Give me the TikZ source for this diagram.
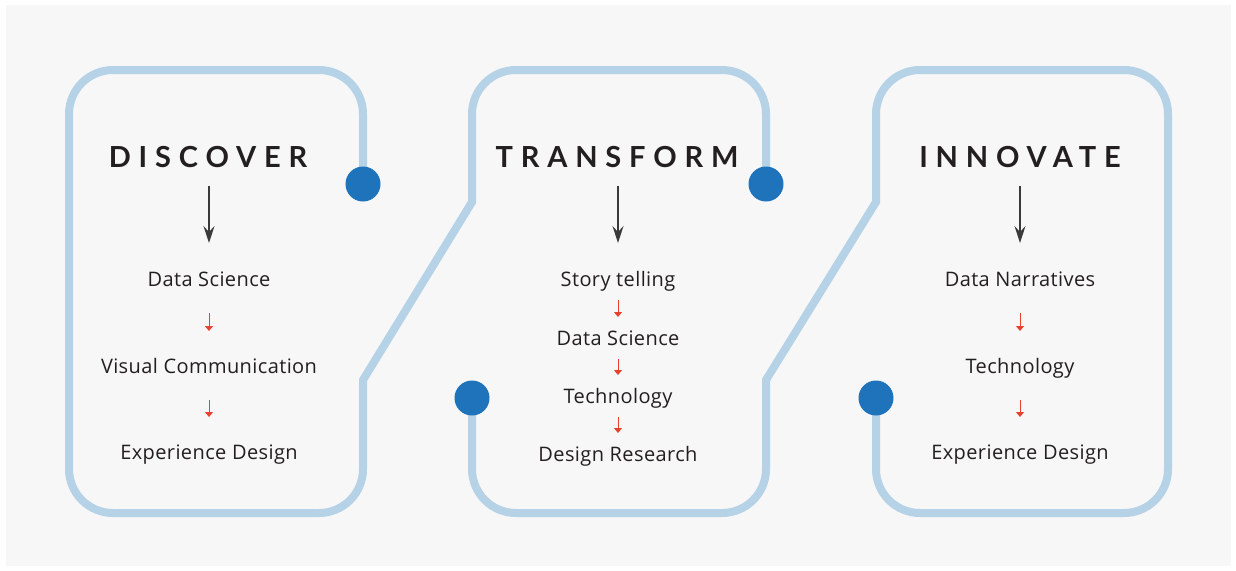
\documentclass[tikz,border=0pt]{standalone}
\usepackage{fontspec}
\setmainfont{Open Sans}[LetterSpace=2]
\newfontfamily\titlefont{Lato}[LetterSpace=27]
\usetikzlibrary{arrows.meta,positioning,calc}
\definecolor{trackblue}{HTML}{B6D2E7}
\definecolor{jointblue}{HTML}{1E73BA}
\definecolor{panelgrey}{HTML}{F7F7F7}
\definecolor{inkdark}{HTML}{231F20}
\definecolor{leadgrey}{HTML}{3A3A3A}
\definecolor{hopred}{HTML}{E8412F}

\begin{document}
\begin{tikzpicture}[x=1pt, y=-1pt, font=\fontsize{20}{22}\selectfont,
	stage/.style={font=\titlefont\bfseries\fontsize{29}{31}\selectfont, text=inkdark,
		text height=20.7pt, text depth=0pt, inner sep=0pt},
	item/.style={text=inkdark, text height=14pt, text depth=0pt, inner sep=0pt},
	joint/.style={circle, fill=jointblue, minimum size=35pt, inner sep=0pt},
	track/.style={draw=trackblue, line width=8pt, line join=miter},
	lead/.style={-{Stealth[length=17pt,width=11pt,inset=6pt]}, draw=leadgrey, line width=1.5pt},
	hop/.style={-{Triangle[length=5pt,width=8pt]}, draw=hopred, line width=1pt}
	]
		\useasboundingbox (0,0) rectangle (1236,570);
		\fill[panelgrey] (6,5) rectangle (1231,566);

		% the track
		\coordinate (jointA) at (363,184);
		\coordinate (jointB) at (766,184);
		\coordinate (jointC) at (472,398);
		\coordinate (jointD) at (876,398);
		\draw[track] (jointA) [rounded corners=44pt] -- (363,70) -- (69,70) -- (69,513) -- (363,513)
			[sharp corners] -- (363,380) -- (472,202) [rounded corners=44pt] -- (472,70) -- (766,70) -- (jointB);
		\draw[track] (jointC) [rounded corners=44pt] -- (472,513) -- (766,513)
			[sharp corners] -- (766,380) -- (876,202) [rounded corners=44pt] -- (876,70) -- (1168,70) -- (1168,513) -- (876,513) -- (jointD);
		\foreach \j in {jointA,jointB,jointC,jointD}
			\node[joint] at (\j) {};

		% discover
		\node[stage] (discover)    at (208,157) {DISCOVER};
		\node[item]  (dscience)    at (209,279) {Data Science};
		\node[item]  (dvisual)     at (209,366) {Visual Communication};
		\node[item]  (dexperience) at (209,452) {Experience Design};

		% transform
		\node[stage] (transform)   at (617,157) {TRANSFORM};
		\node[item]  (tstory)      at (618,279) {Story telling};
		\node[item]  (tscience)    at (618,338) {Data Science};
		\node[item]  (ttech)       at (618,396) {Technology};
		\node[item]  (tresearch)   at (618,454) {Design Research};

		% innovate
		\node[stage] (innovate)    at (1020,157) {INNOVATE};
		\node[item]  (inarratives) at (1020,279) {Data Narratives};
		\node[item]  (itech)       at (1020,366) {Technology};
		\node[item]  (iexperience) at (1020,452) {Experience Design};

		\draw[lead] ([xshift=1pt,yshift=-29pt]discover.center)  -- ([yshift=36pt]dscience.center);
		\draw[lead] ([xshift=1pt,yshift=-29pt]transform.center) -- ([yshift=36pt]tstory.center);
		\draw[lead] ([yshift=-29pt]innovate.center)             -- ([yshift=36pt]inarratives.center);

		\draw[hop,shorten <=34pt,shorten >=35pt] (dscience.center) -- (dvisual.center);
		\draw[hop,shorten <=34pt,shorten >=35pt] (dvisual.center)  -- (dexperience.center);
		\draw[hop,shorten <=21pt,shorten >=21pt] (tstory.center)   -- (tscience.center);
		\draw[hop,shorten <=21pt,shorten >=21pt] (tscience.center) -- (ttech.center);
		\draw[hop,shorten <=21pt,shorten >=21pt] (ttech.center)    -- (tresearch.center);
		\draw[hop,shorten <=34pt,shorten >=35pt] (inarratives.center) -- (itech.center);
		\draw[hop,shorten <=34pt,shorten >=35pt] (itech.center)    -- (iexperience.center);
\end{tikzpicture}
\end{document}
